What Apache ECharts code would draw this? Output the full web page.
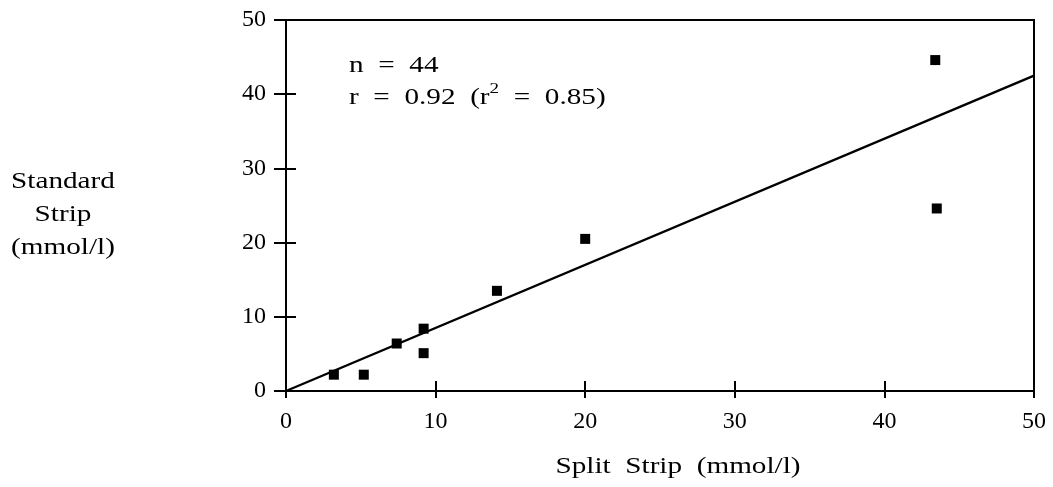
<!DOCTYPE html>
<html>
    <head>
        <meta charset="utf-8">
        <title>split-strip</title>
        <style>html,body{margin:0;padding:0;background:#fff}.chart{width:1053px;height:487px}</style>
    </head>
    <body>
        <div class="chart"></div>
        <script type="text/javascript" src="https://fastly.jsdelivr.net/npm/echarts@6/dist/echarts.min.js"></script>
        <script>
            // values
            const splitStrip = [3.2, 5.2, 7.4, 9.2, 9.2, 14.1, 20.0, 43.4, 43.5];
            const standardStrip = [2.2, 2.2, 6.4, 8.4, 5.1, 13.5, 20.5, 44.6, 24.6];
            const fitX = [0, 50];
            const fitY = [0, 42.5];
            const axisTicks = [0, 10, 20, 30, 40, 50];
            const statLines = ['n  =  44', 'r  =  0.92  (r{sup|2}  =  0.85)'];
            const xTitle = 'Split  Strip  (mmol/l)';
            const yTitle = 'Standard\nStrip\n(mmol/l)';

            const font = 'Liberation Serif';
            // the scanned lettering is wider than it is tall
            const stretch = 1.27;
            const $myChart = echarts.init(document.querySelector('.chart'));

            const points = splitStrip.map((x, i) => [x, standardStrip[i]]);
            const fit = fitX.map((x, i) => [x, fitY[i]]);

            const baseAxis = {
                type: 'value',
                min: axisTicks[0],
                max: axisTicks[axisTicks.length - 1],
                interval: axisTicks[1] - axisTicks[0],
                splitLine: { show: false }
            };
            const tickStyle = { color: '#000', width: 2 };
            const labelStyle = { color: '#000', fontFamily: font, fontSize: 24 };

            const option = {
                animation: false,
                backgroundColor: '#fff',
                grid: {
                    left: 286, right: 19, top: 20, bottom: 96,
                    show: true, borderColor: '#000', borderWidth: 2
                },
                xAxis: [
                    Object.assign({}, baseAxis, {
                        position: 'bottom',
                        axisLine: { show: true, lineStyle: tickStyle },
                        axisTick: { show: true, inside: false, length: 7, lineStyle: tickStyle },
                        axisLabel: Object.assign({ margin: 19 }, labelStyle)
                    }),
                    Object.assign({}, baseAxis, {
                        position: 'bottom',
                        axisLine: { show: false },
                        axisTick: { show: true, inside: true, length: 10, lineStyle: tickStyle },
                        axisLabel: { show: false }
                    })
                ],
                yAxis: [
                    Object.assign({}, baseAxis, {
                        position: 'left',
                        axisLine: { show: true, lineStyle: tickStyle },
                        axisTick: { show: true, inside: false, length: 12, lineStyle: tickStyle },
                        axisLabel: Object.assign({ margin: 20 }, labelStyle)
                    }),
                    Object.assign({}, baseAxis, {
                        position: 'left',
                        axisLine: { show: false },
                        axisTick: { show: true, inside: true, length: 10, lineStyle: tickStyle },
                        axisLabel: { show: false }
                    })
                ],
                graphic: [
                    {
                        type: 'text',
                        x: 349,
                        y: 66,
                        scaleX: stretch,
                        style: {
                            text: statLines.join('\n'),
                            x: 0, y: -16,
                            align: 'left',
                            verticalAlign: 'top',
                            fill: '#000',
                            fontFamily: font,
                            fontSize: 23,
                            lineHeight: 32,
                            rich: {
                                sup: { fontFamily: font, fontSize: 15, verticalAlign: 'top', padding: [0, 0, 12, 0], fill: '#000' }
                            }
                        }
                    },
                    {
                        type: 'text',
                        x: 63,
                        y: 215,
                        scaleX: stretch,
                        style: {
                            text: yTitle,
                            x: 0, y: 0,
                            align: 'center',
                            verticalAlign: 'middle',
                            fill: '#000',
                            fontFamily: font,
                            fontSize: 23,
                            lineHeight: 33
                        }
                    },
                    {
                        type: 'text',
                        x: 678,
                        y: 467,
                        scaleX: stretch,
                        style: {
                            text: xTitle,
                            x: 0, y: 0,
                            align: 'center',
                            verticalAlign: 'middle',
                            fill: '#000',
                            fontFamily: font,
                            fontSize: 23
                        }
                    }
                ],
                series: [
                    {
                        name: 'fit',
                        type: 'line',
                        data: fit,
                        showSymbol: false,
                        lineStyle: { color: '#000', width: 2.4 },
                        silent: true
                    },
                    {
                        name: 'points',
                        type: 'scatter',
                        data: points,
                        symbol: 'rect',
                        symbolSize: 10,
                        itemStyle: { color: '#000', opacity: 1 }
                    }
                ]
            };
            $myChart.setOption(option);
        </script>
    </body>
</html>
